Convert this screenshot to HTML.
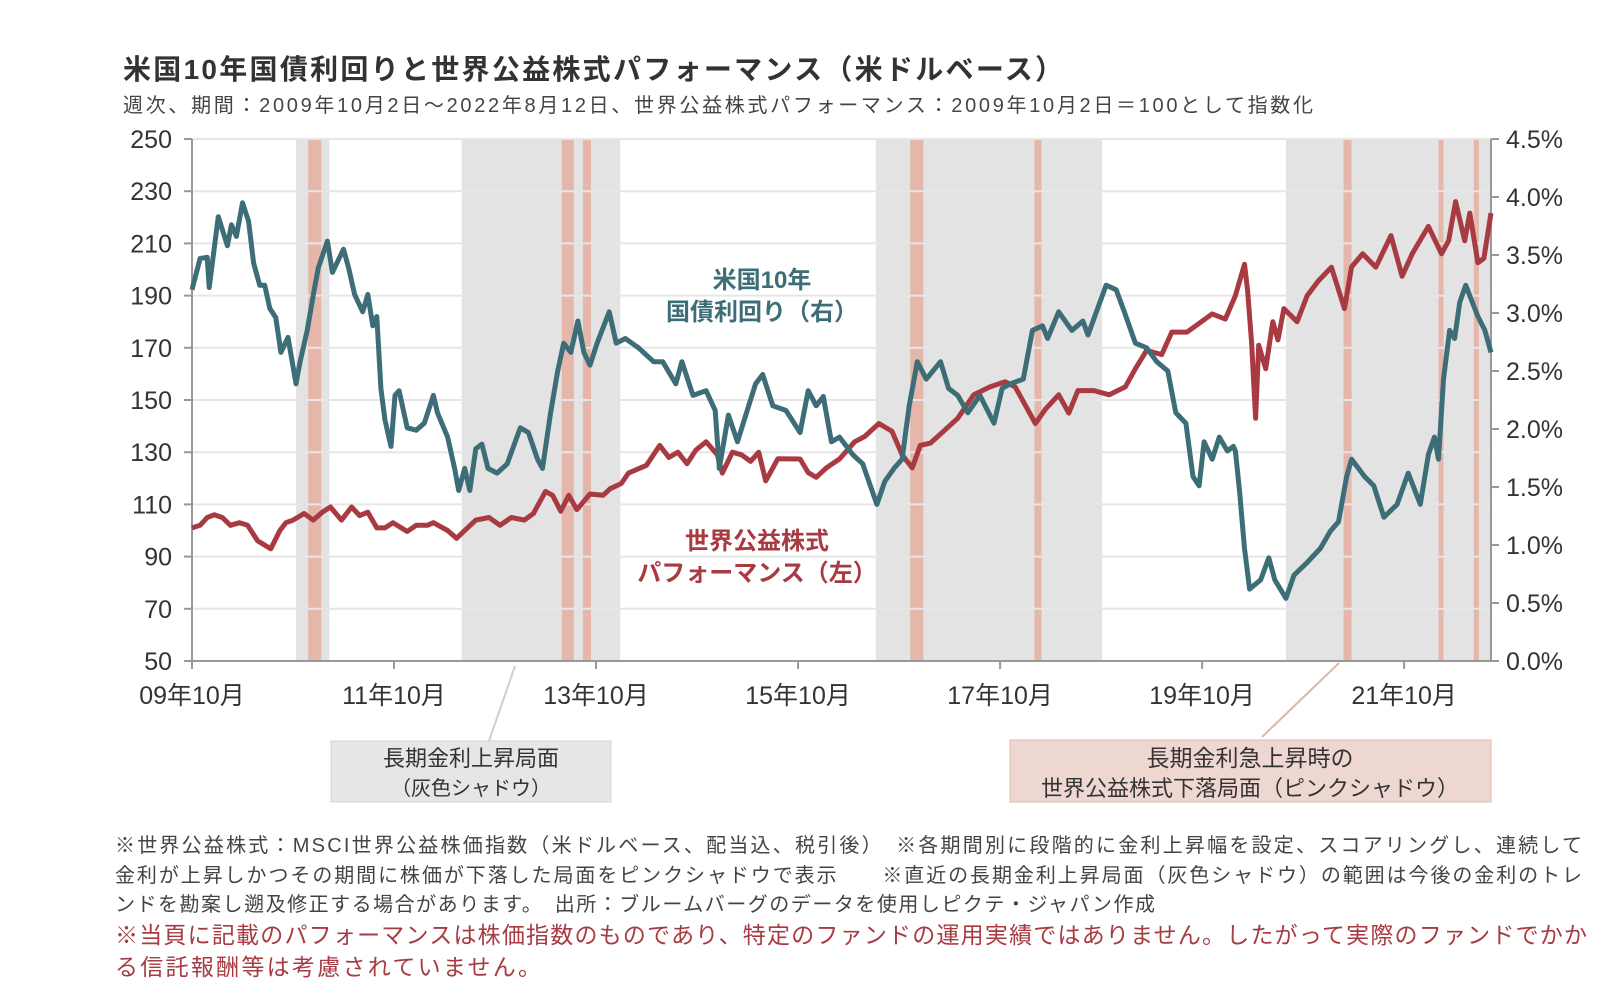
<!DOCTYPE html>
<html><head><meta charset="utf-8">
<style>
html,body{margin:0;padding:0;background:#fff;}
svg{display:block;font-family:"Liberation Sans","Noto Sans CJK JP",sans-serif;}
</style></head>
<body>
<svg id="chart" width="1624" height="988" viewBox="0 0 1624 988" xmlns="http://www.w3.org/2000/svg">
<text x="123" y="79" font-size="28" font-weight="bold" fill="#333" textLength="940">米国10年国債利回りと世界公益株式パフォーマンス（米ドルベース）</text>
<text x="123" y="112" font-size="20" fill="#444" textLength="1190">週次、期間：2009年10月2日～2022年8月12日、世界公益株式パフォーマンス：2009年10月2日＝100として指数化</text>
<g id="shades"></g>
<g id="grid"></g>
<g id="axes"></g>
<g id="series"></g>
<text x="762" y="288" font-size="24" font-weight="bold" fill="#3d6e78" text-anchor="middle">米国10年</text>
<text x="762" y="320" font-size="24" font-weight="bold" fill="#3d6e78" text-anchor="middle">国債利回り（右）</text>
<text x="757" y="549" font-size="24" font-weight="bold" fill="#a83a42" text-anchor="middle">世界公益株式</text>
<text x="757" y="581" font-size="24" font-weight="bold" fill="#a83a42" text-anchor="middle">パフォーマンス（左）</text>
<line x1="515" y1="666" x2="489" y2="741" stroke="#cfcfcf" stroke-width="2"/>
<rect x="331" y="741" width="280" height="61" fill="#e6e6e6" stroke="#d4d4d4"/>
<text x="471" y="766" font-size="22" fill="#333" text-anchor="middle">長期金利上昇局面</text>
<text x="471" y="795" font-size="20" fill="#333" text-anchor="middle">（灰色シャドウ）</text>
<line x1="1339" y1="663" x2="1262" y2="737" stroke="#e0b5aa" stroke-width="2"/>
<rect x="1010" y="740" width="481" height="62" fill="#efd7d1" stroke="#e2b9af"/>
<text x="1250" y="766" font-size="23" fill="#333" text-anchor="middle">長期金利急上昇時の</text>
<text x="1250" y="796" font-size="22" fill="#333" text-anchor="middle">世界公益株式下落局面（ピンクシャドウ）</text>
<text x="115" y="852" font-size="20" fill="#444" textLength="1467">※世界公益株式：MSCI世界公益株価指数（米ドルベース、配当込、税引後）　※各期間別に段階的に金利上昇幅を設定、スコアリングし、連続して</text>
<text x="115" y="882" font-size="20" fill="#444" textLength="1467">金利が上昇しかつその期間に株価が下落した局面をピンクシャドウで表示　　※直近の長期金利上昇局面（灰色シャドウ）の範囲は今後の金利のトレ</text>
<text x="115" y="911" font-size="20" fill="#444" textLength="1040">ンドを勘案し遡及修正する場合があります。　出所：ブルームバーグのデータを使用しピクテ・ジャパン作成</text>
<text x="115" y="943" font-size="23" fill="#a83a42" textLength="1472">※当頁に記載のパフォーマンスは株価指数のものであり、特定のファンドの運用実績ではありません。したがって実際のファンドでかか</text>
<text x="115" y="975" font-size="23" fill="#a83a42" textLength="426">る信託報酬等は考慮されていません。</text>
</svg>
<script>
const leftTicks = [50,70,90,110,130,150,170,190,210,230,250];
const rightTicks = ["0.0%","0.5%","1.0%","1.5%","2.0%","2.5%","3.0%","3.5%","4.0%","4.5%"];
const rightTickValues = [0,0.5,1,1.5,2,2.5,3,3.5,4,4.5];
const xTickDates = [2009.75,2011.75,2013.75,2015.75,2017.75,2019.75,2021.75];
const xTickLabels = ["09年10月","11年10月","13年10月","15年10月","17年10月","19年10月","21年10月"];
const grayStart = [2010.78,2012.42,2016.52,2020.58];
const grayEnd = [2011.11,2013.99,2018.76,2022.61];
const pinkStart = [2010.90,2013.41,2013.62,2016.86,2018.09,2021.15,2022.09,2022.44];
const pinkEnd = [2011.03,2013.53,2013.70,2016.99,2018.16,2021.23,2022.14,2022.49];
const yieldDates = [2009.75,2009.83,2009.90,2009.92,2010.01,2010.10,2010.14,2010.19,2010.25,2010.31,2010.36,2010.42,2010.47,2010.52,2010.58,2010.63,2010.70,2010.78,2010.82,2010.89,2010.96,2011.00,2011.09,2011.14,2011.25,2011.30,2011.36,2011.44,2011.49,2011.54,2011.58,2011.62,2011.66,2011.72,2011.76,2011.80,2011.88,2011.97,2012.05,2012.14,2012.18,2012.28,2012.35,2012.39,2012.45,2012.50,2012.56,2012.62,2012.68,2012.77,2012.87,2013.00,2013.08,2013.17,2013.22,2013.30,2013.37,2013.43,2013.50,2013.57,2013.63,2013.69,2013.76,2013.88,2013.95,2014.04,2014.17,2014.32,2014.41,2014.54,2014.60,2014.71,2014.84,2014.93,2014.97,2015.06,2015.15,2015.24,2015.33,2015.40,2015.50,2015.63,2015.77,2015.85,2015.93,2016.00,2016.08,2016.16,2016.29,2016.39,2016.53,2016.61,2016.70,2016.78,2016.85,2016.93,2017.02,2017.16,2017.24,2017.33,2017.43,2017.55,2017.69,2017.77,2017.85,2017.98,2018.07,2018.17,2018.22,2018.33,2018.46,2018.57,2018.62,2018.80,2018.90,2018.98,2019.09,2019.20,2019.30,2019.41,2019.49,2019.59,2019.66,2019.72,2019.77,2019.85,2019.92,2020.00,2020.06,2020.08,2020.12,2020.17,2020.22,2020.33,2020.41,2020.47,2020.58,2020.66,2020.79,2020.92,2021.02,2021.10,2021.18,2021.23,2021.36,2021.45,2021.55,2021.68,2021.79,2021.91,2021.99,2022.05,2022.09,2022.14,2022.20,2022.25,2022.30,2022.36,2022.48,2022.55,2022.61];
const yieldValues = [3.20,3.47,3.48,3.22,3.83,3.58,3.76,3.66,3.95,3.79,3.43,3.24,3.24,3.04,2.96,2.66,2.79,2.39,2.58,2.85,3.20,3.39,3.62,3.35,3.55,3.39,3.16,3.01,3.16,2.89,2.97,2.35,2.08,1.85,2.29,2.33,2.01,1.99,2.05,2.29,2.14,1.93,1.66,1.47,1.66,1.47,1.83,1.87,1.66,1.62,1.70,2.01,1.97,1.74,1.66,2.14,2.50,2.74,2.66,2.93,2.66,2.55,2.74,3.01,2.74,2.78,2.70,2.58,2.58,2.39,2.58,2.29,2.33,2.16,1.66,2.12,1.89,2.14,2.39,2.47,2.20,2.16,1.97,2.33,2.20,2.28,1.89,1.93,1.78,1.70,1.35,1.55,1.66,1.74,2.20,2.58,2.43,2.58,2.35,2.29,2.14,2.29,2.05,2.35,2.39,2.43,2.85,2.89,2.78,3.01,2.85,2.93,2.81,3.24,3.20,3.01,2.74,2.70,2.58,2.50,2.14,2.05,1.59,1.51,1.89,1.74,1.93,1.81,1.85,1.81,1.47,0.97,0.62,0.70,0.89,0.70,0.54,0.74,0.85,0.97,1.12,1.20,1.59,1.74,1.59,1.51,1.24,1.35,1.62,1.35,1.78,1.93,1.74,2.43,2.85,2.78,3.09,3.24,2.97,2.85,2.66];
const perfDates = [2009.75,2009.83,2009.90,2009.97,2010.05,2010.13,2010.22,2010.30,2010.40,2010.53,2010.62,2010.68,2010.75,2010.86,2010.95,2011.04,2011.12,2011.23,2011.33,2011.41,2011.49,2011.58,2011.66,2011.74,2011.88,2011.97,2012.08,2012.14,2012.28,2012.37,2012.45,2012.56,2012.69,2012.80,2012.91,2013.04,2013.13,2013.25,2013.32,2013.40,2013.48,2013.56,2013.69,2013.82,2013.89,2014.00,2014.07,2014.25,2014.38,2014.47,2014.56,2014.65,2014.74,2014.84,2014.95,2015.00,2015.10,2015.19,2015.28,2015.36,2015.43,2015.55,2015.77,2015.85,2015.93,2016.03,2016.16,2016.31,2016.41,2016.55,2016.68,2016.78,2016.88,2016.96,2017.06,2017.19,2017.33,2017.49,2017.65,2017.80,2017.90,2018.00,2018.10,2018.20,2018.33,2018.43,2018.52,2018.68,2018.83,2018.99,2019.09,2019.20,2019.35,2019.45,2019.60,2019.85,2019.98,2020.08,2020.17,2020.20,2020.24,2020.28,2020.31,2020.38,2020.45,2020.50,2020.56,2020.69,2020.79,2020.90,2021.03,2021.16,2021.23,2021.34,2021.47,2021.62,2021.73,2021.83,2021.99,2022.12,2022.19,2022.26,2022.35,2022.40,2022.48,2022.54,2022.61];
const perfValues = [101,102,105,106,105,102,103,102,96,93,100,103,104,106.5,104,107,109,104,109,105.7,107,101,101,103,99.6,102,102,103,100,97,100,104,105,102,105,104,106.5,115,113.5,107.4,113.5,108,114,113.5,116,118,122,125,132.6,128,130,125.6,130.9,134,129,122,130,129,126.5,130,119,127.5,127.4,122.2,120.4,124,127.4,134,136,141,138,129,124,132.6,133.5,138,143,152,155,157,155,148,141,146.5,152,145,153.6,153.6,152,155,162,169,167.4,176,176,183,181,190,202,192,172,143,171,162,180,173,185,180,190,195.6,200.9,185,201,206,200.9,213,197.4,206,216.5,206,211,226,211,221.6,202.6,204.3,221.6];

const X0=192,X1=1491,Y0=661,Y1=139,T0=2009.75,T1=2022.61;
const xs = t => X0 + (t-T0)/(T1-T0)*(X1-X0);
const yL = v => Y0 - (v-50)/200*(Y0-Y1);
const yR = v => Y0 - v/4.5*(Y0-Y1);
const NS="http://www.w3.org/2000/svg";
function mk(tag, attrs, parent){const e=document.createElementNS(NS,tag);for(const k in attrs)e.setAttribute(k,attrs[k]);parent.appendChild(e);return e;}
const shades=document.getElementById('shades'),grid=document.getElementById('grid'),axes=document.getElementById('axes'),series=document.getElementById('series');

for(let i=0;i<grayStart.length;i++){
  const r=mk('rect',{x:xs(grayStart[i]),y:Y1,width:xs(grayEnd[i])-xs(grayStart[i]),height:Y0-Y1,fill:'#e3e3e3'},shades);
  
  
}
for(let i=0;i<pinkStart.length;i++){
  const r=mk('rect',{x:xs(pinkStart[i]),y:Y1,width:xs(pinkEnd[i])-xs(pinkStart[i]),height:Y0-Y1,fill:'#e5b7ab'},shades);
  
  
}
leftTicks.forEach((v,i)=>{
  if(i>0){const g=mk('line',{x1:X0,x2:X1,y1:yL(v),y2:yL(v),stroke:'#e6e6e6','stroke-width':2},grid);
  
  }
  const tk=mk('line',{x1:X0-8,x2:X0,y1:yL(v),y2:yL(v),stroke:'#999','stroke-width':2},axes);
  
  
  const t=mk('text',{x:X0-20,y:yL(v)+9,'font-size':25,fill:'#333','text-anchor':'end'},axes);
  t.textContent=v;
  
  
});
rightTickValues.forEach((v,i)=>{
  const tk=mk('line',{x1:X1,x2:X1+8,y1:yR(v),y2:yR(v),stroke:'#999','stroke-width':2},axes);
  
  
  const t=mk('text',{x:X1+15,y:yR(v)+9,'font-size':25,fill:'#333'},axes);
  t.textContent=rightTicks[i];
  
  
});
xTickDates.forEach((d,i)=>{
  const tk=mk('line',{x1:xs(d),x2:xs(d),y1:Y0,y2:Y0+8,stroke:'#999','stroke-width':2},axes);
  
  
  const t=mk('text',{x:xs(d),y:Y0+43,'font-size':25,fill:'#333','text-anchor':'middle'},axes);
  t.textContent=xTickLabels[i];
  
  
});
const la=mk('line',{x1:X0,x2:X0,y1:Y1,y2:Y0,stroke:'#999','stroke-width':2},axes);


const ra=mk('line',{x1:X1,x2:X1,y1:Y1,y2:Y0,stroke:'#999','stroke-width':2},axes);


const xa=mk('line',{x1:X0,x2:X1,y1:Y0,y2:Y0,stroke:'#999','stroke-width':2},axes);



const pp=perfDates.map((d,i)=>xs(d).toFixed(1)+','+yL(perfValues[i]).toFixed(1)).join(' ');
const pl=mk('polyline',{points:pp,fill:'none',stroke:'#a83a42','stroke-width':5,'stroke-linejoin':'round'},series);


const yp=yieldDates.map((d,i)=>xs(d).toFixed(1)+','+yR(yieldValues[i]).toFixed(1)).join(' ');
const yl=mk('polyline',{points:yp,fill:'none',stroke:'#3d6e78','stroke-width':5,'stroke-linejoin':'round'},series);


</script>
</body></html>
